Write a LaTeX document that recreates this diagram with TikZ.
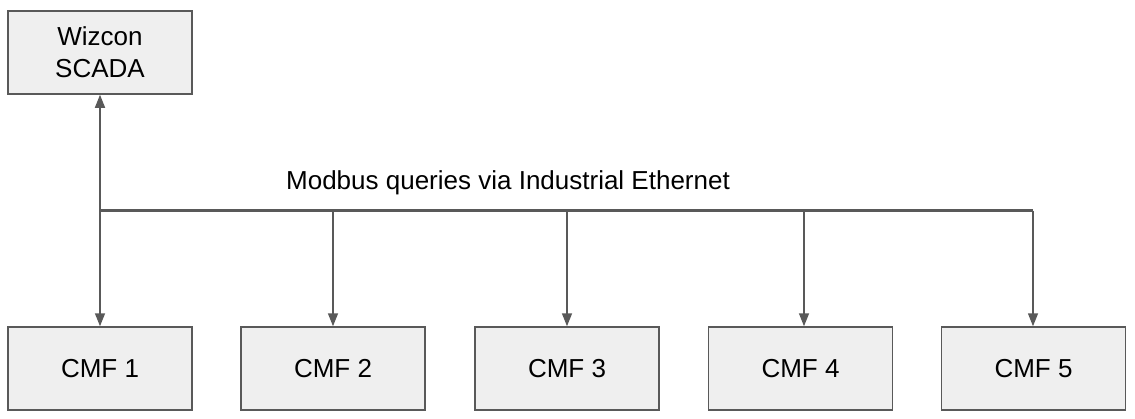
\documentclass[tikz,border=0pt]{standalone}
\usepackage{fontspec}
\setmainfont{Liberation Sans}
\usetikzlibrary{arrows.meta}
\definecolor{boxfill}{HTML}{EFEFEF}
\definecolor{linegray}{HTML}{595959}
\tikzset{
  unitbox/.style={draw=linegray, line width=1.5pt, fill=boxfill, minimum width=184pt, minimum height=83pt, inner sep=0pt, font=\fontsize{26}{32}\selectfont, align=center, text=black},
  conn/.style={draw=linegray, line width=1.5pt, -{Triangle[length=13pt,width=10pt]}},
  busline/.style={draw=linegray, line width=2.5pt}
}
\begin{document}
\begin{tikzpicture}[x=1pt,y=-1pt]
\useasboundingbox (0,0) rectangle (1135,418);
\node[unitbox] (scada) at (100,52.5) {Wizcon\\SCADA};
\node[unitbox] (c1) at (100,368.5) {CMF 1};
\node[unitbox] (c2) at (333,368.5) {CMF 2};
\node[unitbox] (c3) at (567,368.5) {CMF 3};
\node[unitbox] (c4) at (800.5,368.5) {CMF 4};
\node[unitbox] (c5) at (1033.5,368.5) {CMF 5};
\coordinate (b1) at (100,210.5);
\coordinate (b2) at (333,210.5);
\coordinate (b3) at (567,210.5);
\coordinate (b4) at (804,210.5);
\coordinate (b5) at (1033,210.5);
\draw[busline] (b1) -- (b5);
\node[font=\fontsize{26}{31}\selectfont, anchor=base] (lbl) at (508,189) {Modbus queries via Industrial Ethernet};
\draw[conn] (b1) -- (scada.south);
\draw[conn] (b1) -- (c1.north);
\draw[conn] (b2) -- (c2.north);
\draw[conn] (b3) -- (c3.north);
\draw[conn] (b4) -- (b4 |- c4.north);
\draw[conn] (b5) -- (b5 |- c5.north);
\end{tikzpicture}
\end{document}
